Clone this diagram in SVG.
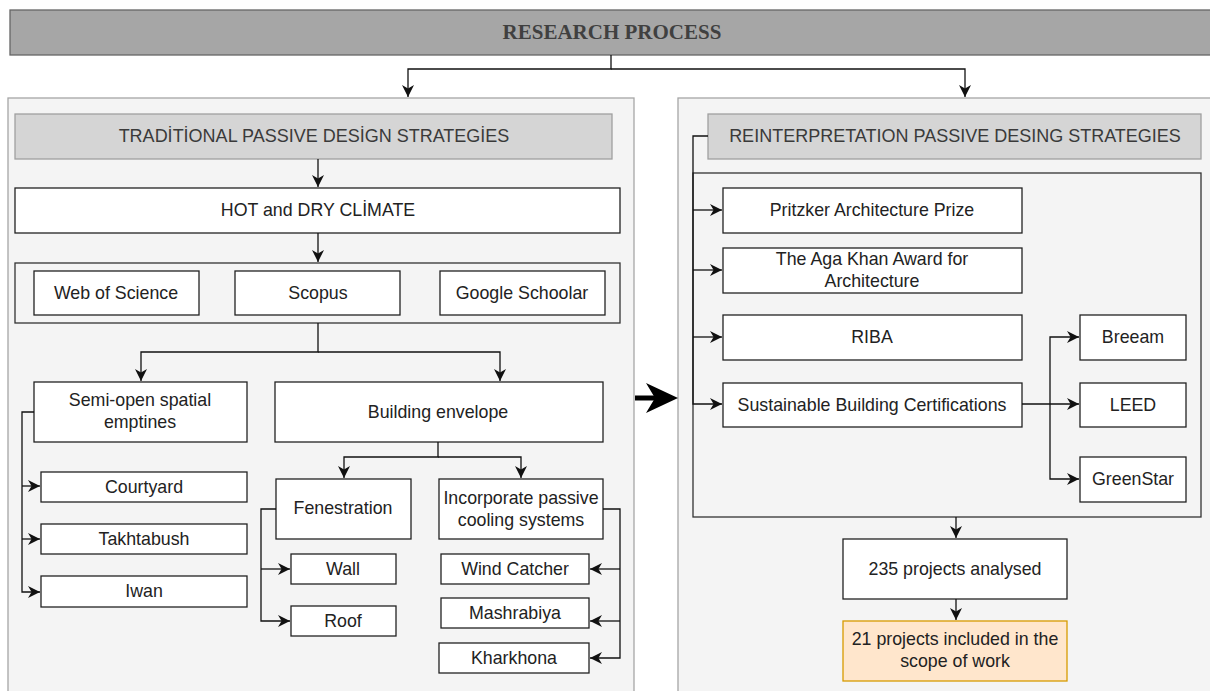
<svg xmlns="http://www.w3.org/2000/svg" width="1210" height="691" viewBox="0 0 1210 691">
<style>
.panel{fill:#f4f4f4;stroke:#a6a6a6;stroke-width:1.3}
.title{fill:#d5d5d5;stroke:#a0a0a0;stroke-width:1.3}
.box{fill:#ffffff;stroke:#222;stroke-width:1.3}
.grp{fill:none;stroke:#333;stroke-width:1.3}
.t{font-family:"Liberation Sans",Arial,sans-serif;font-size:17.8px;fill:#222;text-anchor:middle}
.tt{font-family:"Liberation Sans",Arial,sans-serif;font-size:18px;fill:#3a3a3a;text-anchor:middle}
.c{fill:none;stroke:#111;stroke-width:1.3}
</style>
<defs>
<marker id="a" markerUnits="userSpaceOnUse" markerWidth="12" markerHeight="12" viewBox="0 0 10 10" refX="10" refY="5" orient="auto">
<path d="M0,0 L10,5 L0,10 L3,5 Z" fill="#111"/>
</marker>
</defs>

<g id="research-process">
<rect x="10" y="10" width="1205" height="45" fill="#a6a6a6" stroke="#666" stroke-width="1.3"/>
<text x="612" y="39" font-family="'Liberation Serif','Times New Roman',serif" font-size="21" font-weight="bold" fill="#404040" text-anchor="middle">RESEARCH PROCESS</text>
</g>

<g id="left-panel"><rect class="panel" x="8" y="98" width="626" height="610"/></g>
<g id="right-panel"><rect class="panel" x="678" y="98" width="545" height="610"/></g>

<g id="traditional"><rect class="title" x="15" y="114" width="597" height="45"/><text class="tt" x="314" y="142">TRADİTİONAL PASSIVE DESİGN STRATEGİES</text></g>
<g id="hot-dry"><rect class="box" x="15" y="188" width="605" height="45"/><text class="t" x="318" y="216">HOT and DRY CLİMATE</text></g>
<g id="databases"><rect class="grp" x="15" y="263" width="605" height="60"/></g>
<g id="wos"><rect class="box" x="34" y="271" width="165" height="44"/><text class="t" x="116" y="299">Web of Science</text></g>
<g id="scopus"><rect class="box" x="235" y="271" width="165" height="44"/><text class="t" x="318" y="299">Scopus</text></g>
<g id="google"><rect class="box" x="440" y="271" width="165" height="44"/><text class="t" x="522" y="299">Google Schoolar</text></g>

<g id="semi-open"><rect class="box" x="34" y="382" width="213" height="60"/><text class="t" x="140" y="406">Semi-open spatial</text><text class="t" x="140" y="428">emptines</text></g>
<g id="building-envelope"><rect class="box" x="275" y="382" width="328" height="60"/><text class="t" x="438" y="418">Building envelope</text></g>
<g id="courtyard"><rect class="box" x="41" y="472" width="206" height="30"/><text class="t" x="144" y="493">Courtyard</text></g>
<g id="takhtabush"><rect class="box" x="41" y="524" width="206" height="30"/><text class="t" x="144" y="545">Takhtabush</text></g>
<g id="iwan"><rect class="box" x="41" y="576" width="206" height="31"/><text class="t" x="144" y="597">Iwan</text></g>
<g id="fenestration"><rect class="box" x="276" y="479" width="135" height="60"/><text class="t" x="343" y="514">Fenestration</text></g>
<g id="incorporate"><rect class="box" x="439" y="479" width="164" height="60"/><text class="t" x="521" y="504">Incorporate passive</text><text class="t" x="521" y="526">cooling systems</text></g>
<g id="wall"><rect class="box" x="291" y="554" width="105" height="30"/><text class="t" x="343" y="575">Wall</text></g>
<g id="roof"><rect class="box" x="291" y="606" width="105" height="30"/><text class="t" x="343" y="627">Roof</text></g>
<g id="wind-catcher"><rect class="box" x="441" y="554" width="148" height="30"/><text class="t" x="515" y="575">Wind Catcher</text></g>
<g id="mashrabiya"><rect class="box" x="441" y="598" width="148" height="30"/><text class="t" x="515" y="619">Mashrabiya</text></g>
<g id="kharkhona"><rect class="box" x="439" y="643" width="150" height="30"/><text class="t" x="514" y="664">Kharkhona</text></g>

<g id="reinterpretation"><rect class="title" x="708" y="114" width="493" height="45"/><text class="tt" x="955" y="142">REINTERPRETATION PASSIVE DESING STRATEGIES</text></g>
<g id="awards"><rect class="grp" x="693" y="173" width="508" height="344"/></g>
<g id="pritzker"><rect class="box" x="723" y="188" width="299" height="45"/><text class="t" x="872" y="216">Pritzker Architecture Prize</text></g>
<g id="aga-khan"><rect class="box" x="723" y="248" width="299" height="45"/><text class="t" x="872" y="265">The Aga Khan Award for</text><text class="t" x="872" y="287">Architecture</text></g>
<g id="riba"><rect class="box" x="723" y="315" width="299" height="45"/><text class="t" x="872" y="343">RIBA</text></g>
<g id="sustainable"><rect class="box" x="723" y="383" width="299" height="44"/><text class="t" x="872" y="411">Sustainable Building Certifications</text></g>
<g id="breeam"><rect class="box" x="1080" y="315" width="106" height="45"/><text class="t" x="1133" y="343">Breeam</text></g>
<g id="leed"><rect class="box" x="1080" y="383" width="106" height="44"/><text class="t" x="1133" y="411">LEED</text></g>
<g id="greenstar"><rect class="box" x="1080" y="457" width="106" height="45"/><text class="t" x="1133" y="485">GreenStar</text></g>
<g id="analysed"><rect class="box" x="843" y="539" width="224" height="60"/><text class="t" x="955" y="575">235 projects analysed</text></g>
<g id="included"><rect x="843" y="621" width="224" height="60" fill="#ffe6cc" stroke="#d79b00" stroke-width="1.3"/><text class="t" x="955" y="645">21 projects included in the</text><text class="t" x="955" y="667">scope of work</text></g>

<g id="connectors">
<path class="c" d="M611,55 V69 H408 V97" marker-end="url(#a)"/>
<path class="c" d="M611,69 H965 V97" marker-end="url(#a)"/>
<path class="c" d="M318,159 V187" marker-end="url(#a)"/>
<path class="c" d="M318,233 V262" marker-end="url(#a)"/>
<path class="c" d="M318,323 V352 H141 V381" marker-end="url(#a)"/>
<path class="c" d="M318,352 H500 V381" marker-end="url(#a)"/>
<path class="c" d="M34,412 H22 V592 H40" marker-end="url(#a)"/>
<path class="c" d="M22,486 H40" marker-end="url(#a)"/>
<path class="c" d="M22,539 H40" marker-end="url(#a)"/>
<path class="c" d="M438,442 V457 H344 V478" marker-end="url(#a)"/>
<path class="c" d="M438,457 H521 V478" marker-end="url(#a)"/>
<path class="c" d="M276,509 H261 V621 H290" marker-end="url(#a)"/>
<path class="c" d="M261,569 H290" marker-end="url(#a)"/>
<path class="c" d="M603,509 H620 V658 H590" marker-end="url(#a)"/>
<path class="c" d="M620,569 H590" marker-end="url(#a)"/>
<path class="c" d="M620,621 H590" marker-end="url(#a)"/>
<path class="c" d="M708,136 H693 V404 H722" marker-end="url(#a)"/>
<path class="c" d="M693,210 H722" marker-end="url(#a)"/>
<path class="c" d="M693,270 H722" marker-end="url(#a)"/>
<path class="c" d="M693,337 H722" marker-end="url(#a)"/>
<path class="c" d="M1022,404 H1079" marker-end="url(#a)"/>
<path class="c" d="M1050,404 V337 H1079" marker-end="url(#a)"/>
<path class="c" d="M1050,404 V479 H1079" marker-end="url(#a)"/>
<path class="c" d="M956,517 V538" marker-end="url(#a)"/>
<path class="c" d="M956,599 V620" marker-end="url(#a)"/>
<path d="M635,398 H660" stroke="#000" stroke-width="5"/>
<path d="M678,398 L646,383 L655,398 L646,413 Z" fill="#000"/>
</g>
</svg>
